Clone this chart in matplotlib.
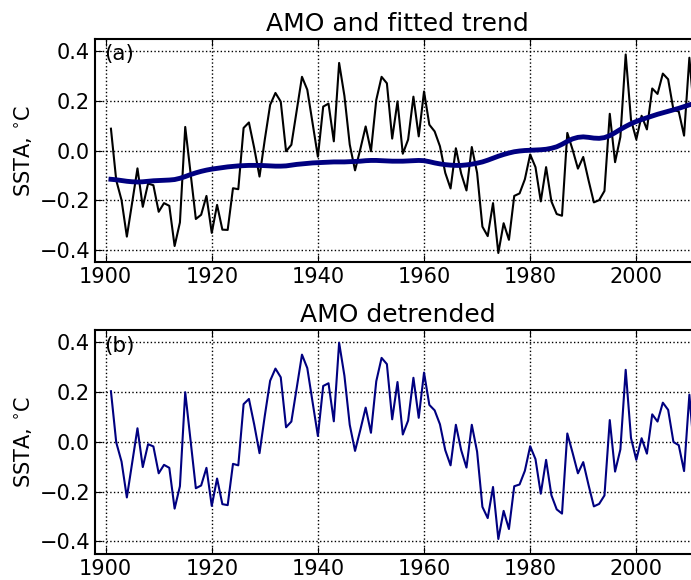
import numpy as np
import matplotlib
matplotlib.use('Agg')
import matplotlib.pyplot as plt

years = np.arange(1901, 2012)

# AMO annual SST anomalies
amo = [0.088, -0.12, -0.20, -0.347, -0.21, -0.072, -0.227, -0.133, -0.14, -0.247,
       -0.212, -0.223, -0.385, -0.29, 0.095, -0.09, -0.276, -0.259, -0.183, -0.332,
       -0.219, -0.319, -0.32, -0.152, -0.156, 0.091, 0.113, 0.01, -0.105, 0.045,
       0.184, 0.232, 0.197, -0.003, 0.023, 0.16, 0.297, 0.245, 0.11, -0.025,
       0.177, 0.189, 0.037, 0.353, 0.22, 0.024, -0.08, 0.006, 0.097, -0.003,
       0.204, 0.297, 0.271, 0.048, 0.198, -0.013, 0.044, 0.217, 0.057, 0.238,
       0.104, 0.077, 0.017, -0.09, -0.153, 0.009, -0.093, -0.161, 0.014, -0.09,
       -0.307, -0.345, -0.212, -0.413, -0.293, -0.36, -0.183, -0.173, -0.116, -0.016,
       -0.067, -0.205, -0.067, -0.205, -0.256, -0.263, 0.071, 0.003, -0.073, -0.026,
       -0.12, -0.209, -0.2, -0.163, 0.148, -0.047, 0.055, 0.387, 0.124, 0.045,
       0.14, 0.085, 0.25, 0.228, 0.31, 0.287, 0.164, 0.157, 0.06, 0.374,
       0.122]

# smooth fitted trend
trend = [-0.116, -0.118, -0.121, -0.124, -0.126, -0.127, -0.126, -0.124, -0.122, -0.121,
         -0.12, -0.119, -0.117, -0.112, -0.105, -0.097, -0.09, -0.084, -0.079, -0.075,
         -0.072, -0.069, -0.066, -0.064, -0.062, -0.061, -0.06, -0.06, -0.06, -0.061,
         -0.062, -0.063, -0.063, -0.062, -0.059, -0.056, -0.054, -0.052, -0.05, -0.049,
         -0.048, -0.047, -0.046, -0.046, -0.046, -0.045, -0.044, -0.043, -0.041, -0.04,
         -0.04, -0.041, -0.042, -0.043, -0.043, -0.043, -0.042, -0.041, -0.04, -0.041,
         -0.045, -0.05, -0.054, -0.057, -0.059, -0.06, -0.06, -0.058, -0.055, -0.051,
         -0.046, -0.039, -0.031, -0.023, -0.016, -0.01, -0.005, -0.002, 0.0, 0.001,
         0.002, 0.003, 0.005, 0.009, 0.015, 0.025, 0.037, 0.047, 0.053, 0.055,
         0.053, 0.05, 0.049, 0.052, 0.06, 0.072, 0.085, 0.097, 0.108, 0.117,
         0.125, 0.132, 0.139, 0.146, 0.152, 0.158, 0.164, 0.17, 0.177, 0.184,
         0.19]

amo = np.array(amo)
trend = np.array(trend)
detrended = amo - trend

plt.rcParams['xtick.direction'] = 'in'
plt.rcParams['ytick.direction'] = 'in'
plt.rcParams['xtick.top'] = True
plt.rcParams['ytick.right'] = True
plt.rcParams['xtick.major.size'] = 5
plt.rcParams['ytick.major.size'] = 5
plt.rcParams['axes.linewidth'] = 1.5
plt.rcParams['mathtext.fontset'] = 'dejavusans'

fig = plt.figure(figsize=(6.91, 5.8), dpi=100)
ax1 = fig.add_axes([0.1375, 0.548, 0.8755, 0.385])
ax2 = fig.add_axes([0.1375, 0.045, 0.8755, 0.386])

ax1.plot(years, amo, color='black', lw=1.5)
ax1.plot(years, trend, color='#000080', lw=3.5)
ax1.set_title('AMO and fitted trend', fontsize=18)
ax1.text(0.015, 0.975, '(a)', transform=ax1.transAxes, fontsize=15.5, va='top')

ax2.plot(years, detrended, color='#000080', lw=1.5)
ax2.set_title('AMO detrended', fontsize=18)
ax2.text(0.015, 0.975, '(b)', transform=ax2.transAxes, fontsize=15.5, va='top')

for ax in (ax1, ax2):
    ax.set_xlim(1898, 2012)
    ax.set_ylim(-0.45, 0.45)
    ax.set_xticks([1900, 1920, 1940, 1960, 1980, 2000])
    ax.set_yticks([-0.4, -0.2, 0.0, 0.2, 0.4])
    ax.grid(True, color='black', linestyle=':', linewidth=1.0)
    ax.tick_params(labelsize=15)
    ax.set_ylabel(r'SSTA, $^{\circ}$C', fontsize=15)

fig.savefig('out.png', dpi=100)
